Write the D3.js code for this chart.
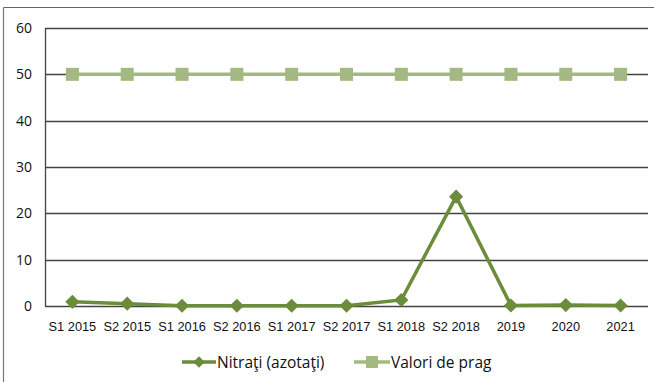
<!DOCTYPE html>
<html><head><meta charset="utf-8">
<script src="https://cdn.jsdelivr.net/npm/d3@7"></script>
<style>body{margin:0;background:#fff}svg{display:block}</style>
</head><body>
<script>
const categories = ["S1 2015","S2 2015","S1 2016","S2 2016","S1 2017","S2 2017","S1 2018","S2 2018","2019","2020","2021"];
const nitrati = [0.9,0.5,0.05,0.05,0.05,0.05,1.3,23.6,0.1,0.2,0.1];
const prag = [50,50,50,50,50,50,50,50,50,50,50];
const yTicks = [0,10,20,30,40,50,60];
const seriesNames = ["Nitraţi (azotaţi)","Valori de prag"];

const W=654,H=382;
const svg=d3.select("body").append("svg").attr("width",W).attr("height",H);
const font="Liberation Sans, Arial, sans-serif";
const font2="Open Sans, Liberation Sans, sans-serif";
const m={l:45,r:6,t:28,b:76};
const x=d3.scaleBand().domain(categories).range([m.l,W-m.r]);
const y=d3.scaleLinear().domain([0,60]).range([H-m.b,m.t]);

// frame
svg.append("line").attr("x1",3.5).attr("x2",W).attr("y1",7.5).attr("y2",7.5).attr("stroke","#666").attr("stroke-width",1.2);
svg.append("line").attr("x1",3.5).attr("x2",3.5).attr("y1",7.5).attr("y2",H).attr("stroke","#777").attr("stroke-width",1.2);

// gridlines
svg.append("g").selectAll("line").data(yTicks).join("line")
 .attr("x1",m.l).attr("x2",W-m.r).attr("y1",d=>Math.round(y(d))+0.5).attr("y2",d=>Math.round(y(d))+0.5)
 .attr("stroke","#444").attr("stroke-width",1.3);
svg.append("line").attr("x1",m.l+0.5).attr("x2",m.l+0.5).attr("y1",y(60)).attr("y2",y(0)).attr("stroke","#444").attr("stroke-width",1.3);

// y labels
svg.append("g").selectAll("text").data(yTicks).join("text")
 .attr("x",32).attr("y",d=>y(d)+5).attr("text-anchor","end")
 .attr("font-family",font2).attr("font-size",14).attr("fill","#111").text(d=>d);

// x labels
svg.append("g").selectAll("text").data(categories).join("text")
 .attr("x",d=>x(d)+x.bandwidth()/2).attr("y",331).attr("text-anchor","middle")
 .attr("font-family",font).attr("font-size",12.8).attr("fill","#111").text(d=>d);

const cx=(d,i)=>x(categories[i])+x.bandwidth()/2;
const c1="#6b8c3a", c2="#a3b981";
// prag series
svg.append("path").datum(prag).attr("fill","none").attr("stroke",c2).attr("stroke-width",3.5)
 .attr("d",d3.line().x(cx).y(d=>y(d)));
svg.append("g").selectAll("rect").data(prag).join("rect")
 .attr("x",(d,i)=>cx(d,i)-6.5).attr("y",d=>y(d)-6.5).attr("width",13).attr("height",13).attr("fill",c2);
// nitrati series
svg.append("path").datum(nitrati).attr("fill","none").attr("stroke",c1).attr("stroke-width",3.5)
 .attr("d",d3.line().x(cx).y(d=>y(d)));
svg.append("g").selectAll("path.m").data(nitrati).join("path")
 .attr("transform",(d,i)=>`translate(${cx(d,i)},${y(d)}) rotate(45)`)
 .attr("d","M-5,-5H5V5H-5Z").attr("fill",c1);

// legend
const lg=svg.append("g").attr("font-family",font2).attr("font-size",15.5).attr("fill","#111");
lg.append("line").attr("x1",182).attr("x2",216).attr("y1",362).attr("y2",362).attr("stroke",c1).attr("stroke-width",3.5);
lg.append("path").attr("transform","translate(199,362) rotate(45)").attr("d","M-4,-4H4V4H-4Z").attr("fill",c1);
lg.append("text").attr("x",217).attr("y",368).text(seriesNames[0]);
lg.append("line").attr("x1",354).attr("x2",390).attr("y1",362).attr("y2",362).attr("stroke",c2).attr("stroke-width",3.5);
lg.append("rect").attr("x",366).attr("y",356).attr("width",12).attr("height",12).attr("fill",c2);
lg.append("text").attr("x",391).attr("y",368).text(seriesNames[1]);
</script>
</body></html>
